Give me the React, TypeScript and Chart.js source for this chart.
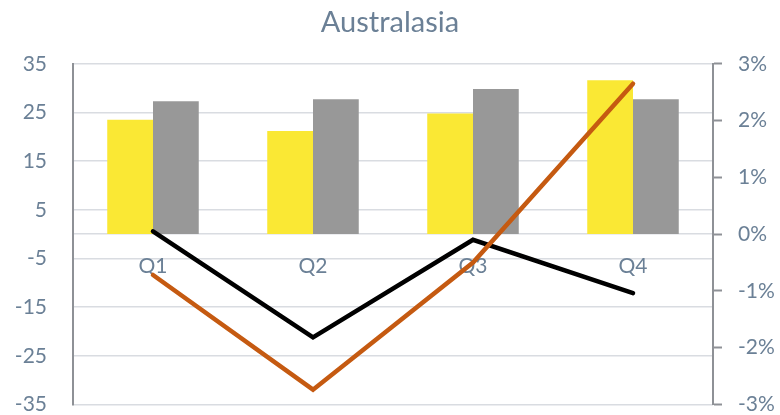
import React, { useEffect, useRef } from "react";
import { Chart, registerables } from "chart.js";

Chart.register(...registerables);

const categories = ["Q1", "Q2", "Q3", "Q4"];
const yellowBars = [23.5, 21.2, 24.8, 31.6];
const grayBars = [27.3, 27.7, 29.8, 27.7];
const blackLine = [0.05, -1.82, -0.1, -1.04];
const orangeLine = [-0.72, -2.74, -0.5, 2.65];
const leftTicks = [-35, -25, -15, -5, 5, 15, 25, 35];
const rightTicks = [-3, -2, -1, 0, 1, 2, 3];

const TEXT = "#6B8096";
const GRID = "#D9DCE1";
const AXIS = "#8E9196";
const FONT = 'Lato, "Open Sans", sans-serif';

export default function App() {
  const ref = useRef<HTMLCanvasElement>(null);

  useEffect(() => {
    if (!ref.current) return;
    const chart = new Chart(ref.current, {
      type: "bar",
      data: {
        labels: categories,
        datasets: [
          {
            type: "bar",
            label: "Series 1",
            data: yellowBars,
            backgroundColor: "#FAE834",
            borderWidth: 0,
            yAxisID: "y",
            order: 3,
            categoryPercentage: 0.572,
            barPercentage: 1,
          },
          {
            type: "bar",
            label: "Series 2",
            data: grayBars,
            backgroundColor: "#989898",
            borderWidth: 0,
            yAxisID: "y",
            order: 3,
            categoryPercentage: 0.572,
            barPercentage: 1,
          },
          {
            type: "line",
            label: "Series 3",
            data: blackLine,
            borderColor: "#000000",
            borderWidth: 4.5,
            pointRadius: 0,
            tension: 0,
            fill: false,
            borderCapStyle: "round",
            yAxisID: "y2",
            order: 2,
          },
          {
            type: "line",
            label: "Series 4",
            data: orangeLine,
            borderColor: "#C55A11",
            borderWidth: 4.5,
            pointRadius: 0,
            tension: 0,
            fill: false,
            borderCapStyle: "round",
            yAxisID: "y2",
            order: 1,
          },
        ],
      } as any,
      options: {
        animation: false,
        responsive: false,
        events: [],
        layout: { padding: 0 },
        plugins: {
          legend: { display: false },
          tooltip: { enabled: false },
          title: {
            display: true,
            text: "Australasia",
            color: TEXT,
            font: { family: FONT, size: 29, weight: "normal" },
            padding: { top: 5, bottom: 24 },
          },
        },
        scales: {
          x: {
            type: "category",
            position: { y: 0 } as any,
            grid: { display: false, drawTicks: false },
            border: { display: true, color: GRID, width: 1.5 },
            ticks: {
              color: TEXT,
              font: { family: FONT, size: 21 },
              padding: 20,
              maxRotation: 0,
            },
            afterFit: (s: any) => {
              s.height = 0;
            },
          },
          y: {
            type: "linear",
            position: "left",
            min: -35,
            max: 35,
            afterBuildTicks: (s: any) => {
              s.ticks = leftTicks.map((v) => ({ value: v }));
            },
            grid: { color: GRID, lineWidth: 1.5, drawTicks: false },
            border: { display: true, color: AXIS, width: 2 },
            ticks: {
              color: TEXT,
              font: { family: FONT, size: 21 },
              padding: 26,
            },
            afterFit: (s: any) => {
              s.width = 73;
            },
          },
          y2: {
            type: "linear",
            position: "right",
            min: -3,
            max: 3,
            afterBuildTicks: (s: any) => {
              s.ticks = rightTicks.map((v) => ({ value: v }));
            },
            grid: {
              drawOnChartArea: false,
              drawTicks: true,
              tickLength: 9,
              tickColor: AXIS,
              tickWidth: 2,
            },
            border: { display: true, color: AXIS, width: 2 },
            ticks: {
              color: TEXT,
              font: { family: FONT, size: 21 },
              padding: 16,
              callback: (v: any) => `${v}%`,
            },
            afterFit: (s: any) => {
              s.width = 67;
            },
          },
        },
      } as any,
    });
    return () => chart.destroy();
  }, []);

  return (
    <div
      style={{
        position: "fixed",
        left: 0,
        top: 0,
        width: 780,
        height: 415,
        overflow: "hidden",
        background: "#ffffff",
      }}
    >
      <canvas ref={ref} width={780} height={443} style={{ display: "block" }} />
    </div>
  );
}
